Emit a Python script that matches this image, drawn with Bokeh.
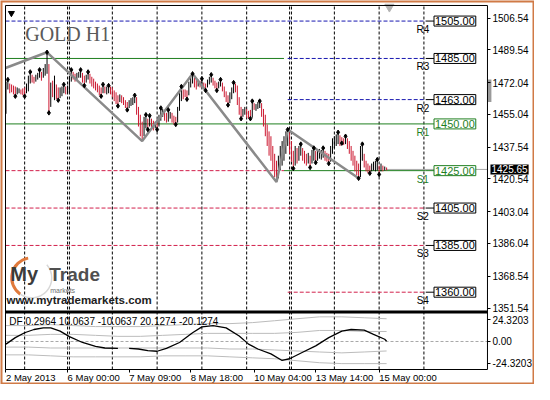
from bokeh.plotting import figure
from bokeh.models import Range1d, FixedTicker, Label, LinearAxis
from bokeh.core.properties import value
from bokeh.embed import file_html
from bokeh.resources import INLINE

# ---------------- data (H1 bars, index = hourly bar number) ----------------
highs = [1472.6, 1473.7, 1471.6, 1471.1, 1470.5, 1470.0, 1469.5, 1469.0, 1468.4, 1469.0,
         1469.5, 1471.6, 1475.8, 1477.8, 1476.3, 1475.2, 1476.3, 1477.3, 1478.9, 1477.8,
         1479.9, 1482.0, 1488.3, 1482.0, 1472.1, 1473.1, 1475.8, 1471.1, 1469.5, 1469.5,
         1470.0, 1471.1, 1470.0, 1470.5, 1475.8, 1478.9, 1477.8, 1476.8, 1477.3, 1477.8,
         1478.9, 1477.3, 1475.8, 1476.3, 1477.8, 1476.8, 1475.2, 1474.2, 1472.6, 1471.6,
         1470.5, 1469.5, 1471.1, 1470.0, 1470.0, 1470.5, 1470.0, 1469.5, 1467.9, 1466.9,
         1465.3, 1465.8, 1465.3, 1464.3, 1462.7, 1461.7, 1462.7, 1463.8, 1464.3, 1465.3,
         1464.3, 1459.1, 1454.9, 1451.2, 1453.8, 1454.9, 1452.8, 1454.4, 1452.8, 1451.7,
         1451.2, 1452.3, 1454.9, 1458.5, 1458.0, 1457.0, 1455.9, 1457.5, 1456.4, 1455.9,
         1454.4, 1453.8, 1459.1, 1466.4, 1470.0, 1468.4, 1468.4, 1467.9, 1472.6, 1475.8,
         1476.8, 1474.7, 1473.7, 1473.7, 1473.1, 1474.2, 1472.1, 1471.6, 1473.7, 1475.2,
         1476.3, 1474.7, 1473.1, 1472.1, 1472.6, 1473.7, 1472.1, 1470.0, 1467.4, 1465.3,
         1466.9, 1469.5, 1472.1, 1471.6, 1470.5, 1464.3, 1459.1, 1458.0, 1459.1, 1458.0,
         1457.0, 1457.5, 1462.2, 1461.1, 1460.6, 1461.7, 1462.2, 1461.1, 1458.0, 1454.9,
         1449.7, 1446.0, 1443.4, 1438.2, 1434.0, 1430.3, 1433.0, 1438.2, 1440.8, 1443.4,
         1446.0, 1447.0, 1445.5, 1440.8, 1435.6, 1438.2, 1437.1, 1438.2, 1439.2, 1437.1,
         1435.6, 1434.0, 1434.5, 1433.0, 1436.1, 1437.1, 1435.6, 1436.1, 1436.6, 1436.1,
         1437.1, 1435.6, 1434.5, 1434.0, 1438.2, 1442.3, 1443.4, 1444.4, 1445.5, 1443.9,
         1442.9, 1442.3, 1443.4, 1442.3, 1440.8, 1438.2, 1435.6, 1433.0, 1430.3, 1428.8,
         1438.2, 1439.2, 1434.0, 1430.3, 1428.8, 1427.7, 1428.8, 1429.8, 1430.3, 1430.9,
         1427.7, 1428.8, 1427.7, 1427.2, 1426.7]
lows = [1455.4, 1468.4, 1466.4, 1466.9, 1465.8, 1464.8, 1465.8, 1466.4, 1465.8, 1465.3,
        1464.8, 1466.4, 1467.4, 1471.6, 1472.1, 1471.6, 1472.6, 1473.7, 1474.7, 1473.1,
        1474.7, 1475.8, 1476.8, 1455.9, 1459.1, 1464.3, 1462.7, 1463.2, 1462.7, 1463.8,
        1464.8, 1466.4, 1465.8, 1466.4, 1466.9, 1472.6, 1473.7, 1472.6, 1473.7, 1474.7,
        1474.7, 1472.1, 1470.5, 1472.1, 1473.7, 1471.6, 1470.0, 1469.0, 1467.9, 1466.9,
        1465.3, 1464.8, 1466.4, 1466.4, 1465.8, 1466.4, 1465.8, 1464.3, 1462.2, 1460.6,
        1459.6, 1461.7, 1461.1, 1460.1, 1458.5, 1457.5, 1458.5, 1459.6, 1460.1, 1461.1,
        1454.9, 1448.6, 1443.4, 1440.8, 1443.4, 1447.6, 1447.0, 1448.6, 1447.6, 1446.5,
        1447.6, 1447.0, 1448.6, 1451.7, 1453.8, 1451.7, 1450.7, 1451.2, 1452.8, 1450.7,
        1449.7, 1449.7, 1450.7, 1457.0, 1462.2, 1463.2, 1464.3, 1463.2, 1465.3, 1469.5,
        1471.6, 1469.5, 1468.4, 1470.0, 1469.5, 1470.5, 1469.0, 1467.9, 1469.5, 1471.1,
        1472.1, 1470.5, 1469.0, 1467.9, 1469.0, 1470.0, 1467.4, 1464.3, 1461.7, 1460.1,
        1461.1, 1463.2, 1466.4, 1466.9, 1460.1, 1454.9, 1452.8, 1453.8, 1454.9, 1453.3,
        1452.8, 1452.8, 1453.3, 1457.5, 1457.0, 1458.0, 1458.5, 1453.8, 1448.6, 1443.4,
        1438.2, 1433.0, 1430.3, 1425.1, 1421.5, 1418.9, 1420.9, 1425.1, 1427.7, 1430.3,
        1434.0, 1438.2, 1434.0, 1429.8, 1426.2, 1427.7, 1428.8, 1430.3, 1433.0, 1430.3,
        1428.8, 1427.7, 1428.8, 1426.7, 1428.8, 1430.3, 1429.3, 1430.3, 1431.4, 1430.9,
        1431.9, 1430.3, 1429.8, 1428.8, 1429.8, 1434.0, 1437.1, 1438.2, 1439.2, 1438.2,
        1439.7, 1438.7, 1439.2, 1436.6, 1434.0, 1430.3, 1427.7, 1424.6, 1422.5, 1420.9,
        1421.5, 1430.3, 1426.7, 1424.6, 1423.6, 1423.6, 1424.6, 1425.1, 1424.6, 1425.1,
        1423.0, 1424.6, 1424.6, 1425.1, 1425.1]
opens = [1456.4, 1469.5, 1470.5, 1470.0, 1469.5, 1469.0, 1466.4, 1466.9, 1467.9, 1468.4,
         1468.4, 1467.4, 1468.4, 1472.6, 1475.2, 1474.7, 1473.1, 1474.2, 1475.8, 1476.8,
         1475.8, 1476.8, 1477.8, 1481.0, 1460.1, 1472.1, 1463.8, 1470.0, 1468.4, 1464.8,
         1465.8, 1467.4, 1469.0, 1467.4, 1467.9, 1473.7, 1476.8, 1475.8, 1474.2, 1475.2,
         1475.8, 1476.3, 1474.7, 1473.1, 1474.7, 1475.8, 1474.2, 1473.1, 1471.6, 1470.5,
         1469.5, 1468.4, 1467.4, 1469.5, 1466.9, 1467.4, 1469.0, 1468.4, 1466.9, 1465.8,
         1464.3, 1462.7, 1464.3, 1463.2, 1461.7, 1460.6, 1459.6, 1460.6, 1461.1, 1462.2,
         1463.2, 1458.0, 1453.8, 1450.2, 1444.4, 1448.6, 1451.7, 1449.7, 1451.7, 1450.7,
         1448.1, 1451.2, 1449.7, 1452.8, 1454.9, 1455.9, 1454.9, 1452.3, 1453.3, 1454.9,
         1453.3, 1452.8, 1451.7, 1458.0, 1463.2, 1467.4, 1467.4, 1466.9, 1466.4, 1470.5,
         1472.6, 1473.7, 1472.6, 1470.5, 1472.6, 1471.1, 1471.6, 1471.1, 1470.5, 1472.1,
         1473.1, 1473.7, 1472.1, 1471.1, 1469.5, 1470.5, 1471.1, 1469.0, 1466.4, 1464.3,
         1462.2, 1464.3, 1467.4, 1470.5, 1469.5, 1463.2, 1458.0, 1454.9, 1455.9, 1457.0,
         1455.9, 1456.4, 1454.4, 1460.6, 1457.5, 1458.5, 1459.1, 1460.1, 1457.0, 1453.8,
         1448.6, 1445.0, 1442.3, 1437.1, 1433.0, 1429.3, 1422.0, 1426.2, 1428.8, 1431.4,
         1435.0, 1439.2, 1444.4, 1439.7, 1434.5, 1428.8, 1436.1, 1431.4, 1434.0, 1436.1,
         1434.5, 1433.0, 1429.8, 1431.9, 1429.8, 1431.4, 1434.5, 1431.4, 1432.4, 1431.9,
         1433.0, 1434.5, 1433.5, 1433.0, 1430.9, 1435.0, 1438.2, 1439.2, 1440.3, 1442.9,
         1442.3, 1441.8, 1440.3, 1441.3, 1439.7, 1437.1, 1434.5, 1431.9, 1429.3, 1427.7,
         1422.5, 1431.4, 1433.0, 1429.3, 1427.7, 1426.7, 1425.7, 1426.2, 1425.7, 1426.2,
         1426.7, 1425.7, 1427.2, 1425.7, 1426.2]
closes = [1471.6, 1472.6, 1467.4, 1467.9, 1466.9, 1465.8, 1469.0, 1468.4, 1466.4, 1465.8,
          1465.8, 1470.5, 1474.7, 1476.8, 1473.1, 1472.1, 1475.8, 1476.8, 1477.8, 1474.2,
          1478.9, 1481.0, 1487.2, 1457.0, 1471.1, 1465.3, 1474.7, 1464.3, 1463.8, 1468.4,
          1469.0, 1470.0, 1466.9, 1469.5, 1474.7, 1477.8, 1474.7, 1473.7, 1476.8, 1477.3,
          1477.8, 1473.1, 1471.6, 1475.2, 1476.8, 1472.6, 1471.1, 1470.0, 1469.0, 1467.9,
          1466.4, 1465.8, 1470.0, 1466.9, 1469.0, 1469.5, 1466.9, 1465.3, 1463.2, 1461.7,
          1460.6, 1464.8, 1462.2, 1461.1, 1459.6, 1458.5, 1461.7, 1462.7, 1463.2, 1464.3,
          1455.9, 1449.7, 1444.4, 1441.8, 1452.8, 1453.8, 1448.1, 1453.3, 1448.6, 1447.6,
          1450.7, 1448.1, 1453.8, 1457.5, 1457.0, 1452.8, 1451.7, 1456.4, 1455.9, 1451.7,
          1450.7, 1450.7, 1458.0, 1465.3, 1469.0, 1464.3, 1465.3, 1464.3, 1471.6, 1474.7,
          1475.8, 1470.5, 1469.5, 1473.1, 1470.0, 1473.7, 1469.5, 1468.4, 1472.6, 1474.2,
          1475.2, 1471.6, 1470.0, 1469.0, 1472.1, 1473.1, 1468.4, 1465.3, 1462.7, 1461.1,
          1465.8, 1468.4, 1471.1, 1467.9, 1461.1, 1455.9, 1453.8, 1457.0, 1458.0, 1454.4,
          1453.8, 1453.8, 1461.1, 1458.0, 1460.1, 1461.1, 1461.7, 1454.9, 1449.7, 1444.4,
          1439.2, 1434.0, 1431.4, 1426.2, 1422.5, 1419.9, 1431.9, 1437.1, 1439.7, 1442.3,
          1445.0, 1446.0, 1435.0, 1430.9, 1427.2, 1437.1, 1429.8, 1437.1, 1438.2, 1431.4,
          1429.8, 1428.8, 1433.5, 1427.7, 1435.0, 1436.1, 1430.3, 1435.0, 1435.6, 1435.0,
          1436.1, 1431.4, 1430.9, 1429.8, 1437.1, 1441.3, 1442.3, 1443.4, 1444.4, 1439.2,
          1440.3, 1439.2, 1442.3, 1437.7, 1435.0, 1431.4, 1428.8, 1425.7, 1423.6, 1422.0,
          1437.1, 1438.2, 1427.7, 1425.7, 1424.6, 1424.6, 1427.7, 1428.8, 1429.3, 1429.8,
          1424.1, 1427.7, 1425.1, 1426.7, 1425.65]

fractal_up = [1, 13, 18, 22, 31, 35, 40, 44, 52, 55, 69, 75, 77, 83, 87, 94, 100, 105, 110,
              115, 122, 132, 136, 151, 158, 165, 170, 178, 182, 191, 199]
fractal_dn = [5, 10, 23, 28, 42, 51, 60, 65, 76, 81, 91, 97, 107, 113, 119, 126, 131, 154,
              163, 166, 173, 180, 189, 195, 200]

zz_idx = [-0.26, 22, 73, 100, 145, 151, 189]
zz_price = [1479.9, 1488.3, 1440.8, 1476.8, 1418.9, 1447.0, 1420.9]

day_lines = [10, 33, 34, 57, 81, 105, 129, 152, 153, 176, 200, 224]
date_ticks = [0, 33, 66, 99, 133, 166, 200]
date_labels = ["2 May 2013", "6 May 00:00", "7 May 09:00", "8 May 18:00",
               "10 May 04:00", "13 May 14:00", "15 May 00:00"]

price_ticks = [1506.54, 1489.54, 1472.04, 1455.04, 1437.54, 1420.54, 1403.04, 1386.04,
               1368.54, 1351.54]
osc_ticks = [24.3203, 0.0, -24.3203]
osc_tick_labels = ["24.3203", "0.00", "-24.3203"]

level_names = ["R4", "R3", "R2", "R1", "S1", "S2", "S3", "S4"]
level_prices = [1505.0, 1485.0, 1463.0, 1450.0, 1425.0, 1405.0, 1385.0, 1360.0]
level_is_green = [False, False, False, True, True, False, False, False]
week_start = 151
prev_week_end = 149
level_end = 225
current_price = 1425.65

df_idx = [0, 5, 10, 15, 20, 24, 29, 34, 41, 48, 53, 60, 63, 66, 71, 76, 81, 86, 93, 100,
          105, 111, 118, 125, 130, 135, 142, 148, 152, 159, 166, 173, 180, 185, 192, 197, 203, 204]
df_val = [-2.9, 4.3, 9.7, 13.3, 15.1, 15.1, 11.5, 5.4, -1.1, -5.4, -7.2, -7.6, float("nan"),
          -7.6, -8.3, -10.2, -10.8, -7.6, -1.1, 9.7, 16.2, 17.6, 15.1, 6.1, -2.9, -8.3,
          -13.7, -21.0, -19.1, -11.9, -4.8, 4.3, 11.5, 13.3, 12.5, 7.9, 2.5, 0.3]
band_idx = [0, 12, 24, 36, 48, 60, 72, 84, 96, 108, 120, 132, 144, 156, 168, 180, 192, 204]
band_up2 = [17.6, 17.6, 18.7, 17.6, 16.5, 16.5, 16.5, 17.6, 18.7, 19.8, 19.8, 20.9, 23.0,
            25.2, 27.3, 27.3, 26.3, 25.2]
band_up1 = [6.8, 6.8, 7.9, 7.9, 6.8, 5.7, 5.7, 6.8, 7.9, 9.0, 9.0, 9.0, 9.0, 10.1, 12.2,
            12.2, 11.1, 11.1]
band_dn1 = [-6.2, -6.2, -7.2, -7.2, -7.2, -7.2, -7.2, -7.2, -7.2, -7.2, -8.3, -8.3, -9.4,
            -10.5, -11.6, -12.6, -11.6, -10.5]
band_dn2 = [-14.8, -14.8, -15.9, -17.0, -17.0, -17.0, -17.0, -15.9, -15.9, -15.9, -17.0,
            -18.1, -19.1, -21.3, -23.5, -24.5, -24.5, -24.5]
df_header = "DF 0.2964 10.0637 -10.0637 20.1274 -20.1274"

# ---------------- layout constants ----------------
X0, X1 = -2.94, 283.27         # whole canvas, in bar units
P0, P1 = 1310.63, 1516.0       # whole canvas, in price units
O0, O1 = -47.63, 377.69        # whole canvas, in oscillator units
XL, XR = -0.26, 258.07         # chart box left / right edge
P_TOP, P_SEP, P_SUB_BOT = 1513.33, 1349.4, 1318.65

FONT = value("Liberation Sans")
RED = "#cc1830"
GREEN = "#1f7f1f"
BLUE = "#1818b0"
DRED = "#d2204c"

p = figure(width=534, height=384, x_range=Range1d(X0, X1), y_range=Range1d(P0, P1),
           output_backend="svg", toolbar_location=None, x_axis_location=None,
           y_axis_location=None, min_border=0, background_fill_color="white",
           border_fill_color="white")
p.extra_y_ranges = {"osc": Range1d(O0, O1)}
p.grid.visible = False
p.outline_line_color = None


def osc_to_price(v):
    return P0 + (v - O0) * (P1 - P0) / (O1 - O0)


# price / oscillator axis on the right edge of the chart box
osc_pos = [osc_to_price(v) for v in osc_ticks]
ya = LinearAxis(fixed_location=XR, ticker=FixedTicker(ticks=price_ticks + osc_pos))
ov = {t: f"{t:.2f}" for t in price_ticks}
ov.update({t: l for t, l in zip(osc_pos, osc_tick_labels)})
ya.major_label_overrides = ov
ya.major_label_text_font = "Liberation Sans"
ya.major_label_text_font_size = "10px"
ya.major_label_text_color = "black"
ya.axis_line_color = None
ya.major_tick_out = 3
ya.major_tick_in = 0
ya.minor_tick_out = 0
ya.minor_tick_in = 0
ya.major_label_standoff = 2
p.add_layout(ya, "right")

# time axis (tick marks) on the bottom edge of the chart box
xa = LinearAxis(fixed_location=P_SUB_BOT, ticker=FixedTicker(ticks=date_ticks))
xa.major_label_overrides = {t: "" for t in date_ticks}
xa.axis_line_color = None
xa.major_tick_out = 3
xa.major_tick_in = 0
xa.minor_tick_out = 0
xa.minor_tick_in = 0
p.add_layout(xa, "below")
# time labels, left-aligned on their ticks like the terminal draws them
p.text(x=date_ticks, y=[P_SUB_BOT] * len(date_ticks), text=date_labels, text_align="left",
       text_baseline="top", y_offset=2, text_font=FONT, text_font_size="9.5px",
       text_color="black")

# day separators
p.segment(x0=day_lines, y0=[P_SUB_BOT] * len(day_lines), x1=day_lines,
          y1=[P_TOP] * len(day_lines), line_color="black", line_dash="3 2", line_width=1)

# pivot level lines
for lv, c in [(1505.0, BLUE), (1405.0, DRED), (1385.0, DRED)]:
    p.segment(x0=[XL], y0=[lv], x1=[level_end], y1=[lv], line_color=c, line_dash="4 2", line_width=1)
for lv in [1485.0, 1463.0]:
    p.segment(x0=[week_start], y0=[lv], x1=[level_end], y1=[lv], line_color=BLUE, line_dash="4 2", line_width=1)
p.segment(x0=[week_start], y0=[1360.0], x1=[level_end], y1=[1360.0], line_color=DRED, line_dash="4 2", line_width=1)
p.segment(x0=[XL], y0=[1425.0], x1=[prev_week_end], y1=[1425.0], line_color=DRED, line_dash="4 2", line_width=1)
p.segment(x0=[XL], y0=[1485.0], x1=[prev_week_end], y1=[1485.0], line_color=GREEN, line_width=1)
p.segment(x0=[XL], y0=[1450.0], x1=[level_end], y1=[1450.0], line_color=GREEN, line_width=1)

# bid line
p.segment(x0=[len(closes) - 1], y0=[current_price], x1=[XR], y1=[current_price],
          line_color="#a8a8a8", line_width=1)
p.segment(x0=[prev_week_end], y0=[1425.0], x1=[level_end], y1=[1425.0], line_color=GREEN, line_width=1)

# connectors + level boxes + names
for name, lv, g in zip(level_names, level_prices, level_is_green):
    col = GREEN if g else "black"
    p.segment(x0=[level_end], y0=[lv], x1=[230], y1=[lv], line_color=col, line_width=1)
    p.add_layout(Label(x=240.6, y=lv, text=f"{lv:.2f}", text_align="center", text_baseline="middle",
                       text_font="Liberation Sans", text_font_size="11px", text_color=col,
                       background_fill_color="white", border_line_color=col, border_line_width=1,
                       padding=1))
p.text(x=[223.4] * len(level_names), y=level_prices, text=level_names,
       text_align="center", text_baseline="top", y_offset=3, text_font=FONT,
       text_font_size="10px",
       text_color=[GREEN if g else "black" for g in level_is_green])

# bars
idx = list(range(len(highs)))
bar_cols = ["black" if c >= o else RED for o, c in zip(opens, closes)]
p.segment(x0=idx, y0=lows, x1=idx, y1=highs, line_color=bar_cols, line_width=1)

# zigzag
p.line(zz_idx, zz_price, line_color="#8a8a8a", line_width=2.5)

# fractals
p.scatter(x=fractal_up, y=[highs[i] for i in fractal_up], marker="diamond", size=4.5,
          color="black")
p.scatter(x=fractal_dn, y=[lows[i] for i in fractal_dn], marker="diamond", size=4.5,
          color="black")

# title and logo
p.text(x=[10.3], y=[1498.2], text=["GOLD H1"], text_font=value("Liberation Serif"),
       text_font_size="20px", text_color="#5a5a5a", text_baseline="alphabetic")
p.arc(x=[13.8], y=[1367.7], radius=20, radius_units="screen", start_angle=1.75,
      end_angle=4.1, line_color="#e07a3c", line_width=3)
p.arc(x=[13.8], y=[1367.7], radius=20, radius_units="screen", start_angle=4.1,
      end_angle=7.0, line_color="#d8d8d8", line_width=1.5)
p.text(x=[2.3], y=[1364.1], text=["My"], text_font=FONT, text_font_size="20px",
       text_font_style="bold", text_color="#3c3c3c")
p.text(x=[23.2], y=[1364.1], text=["Trade"], text_font=FONT, text_font_size="19px",
       text_font_style="bold", text_color="#505050")
p.text(x=[23.7], y=[1360.9], text=["markets"], text_font=FONT, text_font_size="7px",
       text_color="#707070", text_baseline="alphabetic")
p.text(x=[0.3], y=[1352.6], text=["www.mytrademarkets.com"], text_font=FONT,
       text_font_size="11.5px", text_font_style="bold", text_color="#222222")

# terminal decorations
p.scatter(x=[2.9], y=[1509.2], marker="inverted_triangle", size=6, color="black")
p.scatter(x=[205.5], y=[1512.6], marker="inverted_triangle", size=9, color="#b4b4b4")
p.quad(left=[XR], right=[XR + 2.1], top=[1473.7], bottom=[1461.7], fill_color="#9a9a9a",
       line_color=None)

# oscillator sub-window
p.segment(x0=[XL], y0=[0], x1=[XR], y1=[0], y_range_name="osc", line_color="#a8a8a8",
          line_dash="3 2", line_width=1)
for band in (band_up2, band_up1, band_dn1, band_dn2):
    p.line(band_idx, band, y_range_name="osc", line_color="#bcbcbc", line_width=1)
p.line(df_idx, df_val, y_range_name="osc", line_color="black", line_width=1.3)
p.text(x=[1.8], y=[21.9], text=[df_header], y_range_name="osc", text_font=FONT,
       text_font_size="10px", text_baseline="middle", text_color="black")

# chart box and panel separator
p.quad(left=[XL], right=[XR], top=[P_TOP], bottom=[P_SUB_BOT], fill_color=None,
       line_color="black", line_width=1)
p.segment(x0=[XL], y0=[P_SEP], x1=[XR], y1=[P_SEP], line_color="black", line_width=3)

# current price marker on the axis
p.add_layout(Label(x=XR + 1.6, y=current_price, text=f"{current_price:.2f}", text_align="left",
                   text_baseline="middle", text_font="Liberation Sans", text_font_size="10px",
                   text_color="white", background_fill_color="black", padding=1))

# window frame
p.quad(left=[X0], right=[X1], top=[P1], bottom=[P0], fill_color=None,
       line_color="#d07a46", line_width=4)

open("out.html", "w").write(file_html(p, INLINE))
